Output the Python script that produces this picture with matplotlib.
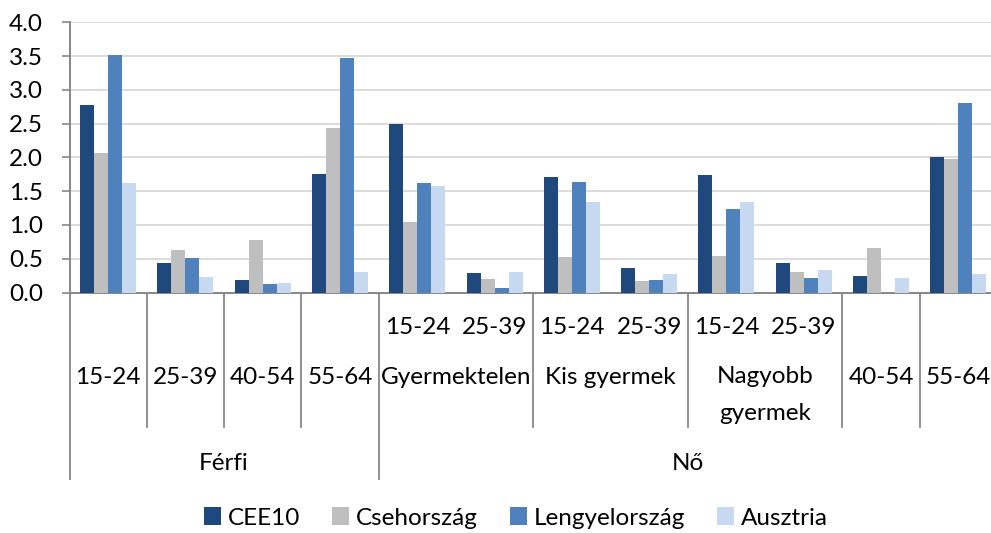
import matplotlib
matplotlib.use("Agg")
import matplotlib.pyplot as plt
import matplotlib.transforms as mtransforms
import numpy as np

plt.rcParams['font.family'] = ['Lato', 'DejaVu Sans']

# category hierarchy (bottom level -> top level)
age = ['15-24', '25-39', '40-54', '55-64', '15-24', '25-39',
       '15-24', '25-39', '15-24', '25-39', '40-54', '55-64']
family = ['', '', '', '', 'Gyermektelen', 'Gyermektelen',
          'Kis gyermek', 'Kis gyermek', 'Nagyobb\ngyermek', 'Nagyobb\ngyermek', '', '']
gender = ['Férfi'] * 4 + ['Nő'] * 8

series = ['CEE10', 'Csehország', 'Lengyelország', 'Ausztria']
cee10 = [2.77, 0.44, 0.18, 1.75, 2.50, 0.29, 1.71, 0.37, 1.74, 0.44, 0.24, 2.00]
cseh = [2.07, 0.63, 0.77, 2.44, 1.04, 0.20, 0.52, 0.17, 0.54, 0.31, 0.66, 1.98]
lengyel = [3.51, 0.51, 0.12, 3.47, 1.62, 0.06, 1.63, 0.18, 1.23, 0.21, 0.0, 2.81]
ausztria = [1.62, 0.23, 0.14, 0.30, 1.57, 0.31, 1.34, 0.27, 1.34, 0.33, 0.22, 0.27]
colors = ['#1F497D', '#BFBFBF', '#4F81BD', '#C6D9F1']

W, H = 991, 533
fig = plt.figure(figsize=(W / 100, H / 100), dpi=100)

def fy(px):
    return 1 - px / H

left, right, top, bottom = 69.5, 997, 22.3, 292.5
ax = fig.add_axes([left / W, fy(bottom), (right - left) / W, (bottom - top) / H])

n = len(age)
x = np.arange(n) + 0.5
bw = 0.181
for k, (vals, c, name) in enumerate(zip([cee10, cseh, lengyel, ausztria], colors, series)):
    ax.bar(x + (k - 1.5) * bw, vals, bw, color=c, label=name, zorder=3)

ax.set_xlim(0, n)
ax.set_ylim(0, 4.0)
ax.set_yticks(np.arange(0, 4.01, 0.5))
ax.yaxis.set_major_formatter(matplotlib.ticker.FormatStrFormatter('%.1f'))
ax.grid(axis='y', color='#D9D9D9', lw=1.3, zorder=0)
ax.set_xticks([])
for s in ['top', 'right']:
    ax.spines[s].set_visible(False)
for s in ['left', 'bottom']:
    ax.spines[s].set_color('#878787')
    ax.spines[s].set_linewidth(1.4)
ax.tick_params(axis='y', length=6, width=1.2, color='#878787', pad=13, labelsize=17.5)

# multi-level category labels below the axis
tr = mtransforms.blended_transform_factory(ax.transData, fig.transFigure)
fs = 17.5
line_kw = dict(color='#878787', lw=1.3, transform=tr, clip_on=False)

i = 0
while i < n:
    if family[i] == '':
        ax.text(x[i], fy(378), age[i], ha='center', va='center', fontsize=fs, transform=tr)
        i += 1
    else:
        j = i
        while j < n and family[j] == family[i]:
            ax.text(x[j], fy(327), age[j], ha='center', va='center', fontsize=fs, transform=tr)
            j += 1
        lab = family[i]
        yc = 395 if '\n' in lab else 378
        ax.text((i + j) / 2, fy(yc), lab, ha='center', va='center', fontsize=fs,
                linespacing=1.9, transform=tr)
        i = j

for b in range(n + 1):
    if b == 0 or b == n or gender[b] != gender[b - 1]:
        ax.plot([b, b], [fy(bottom), fy(479)], **line_kw)
    elif family[b] == '' or family[b] != family[b - 1]:
        ax.plot([b, b], [fy(bottom), fy(427)], **line_kw)

i = 0
while i < n:
    j = i
    while j < n and gender[j] == gender[i]:
        j += 1
    ax.text((i + j) / 2, fy(463), gender[i], ha='center', va='center', fontsize=fs, transform=tr)
    i = j

fig.legend(loc='center', bbox_to_anchor=(516 / W, fy(518)), ncol=4, frameon=False,
           fontsize=fs, handlelength=0.7, handleheight=0.7, handletextpad=0.3,
           columnspacing=1.3)

fig.savefig('out.png', dpi=100)
